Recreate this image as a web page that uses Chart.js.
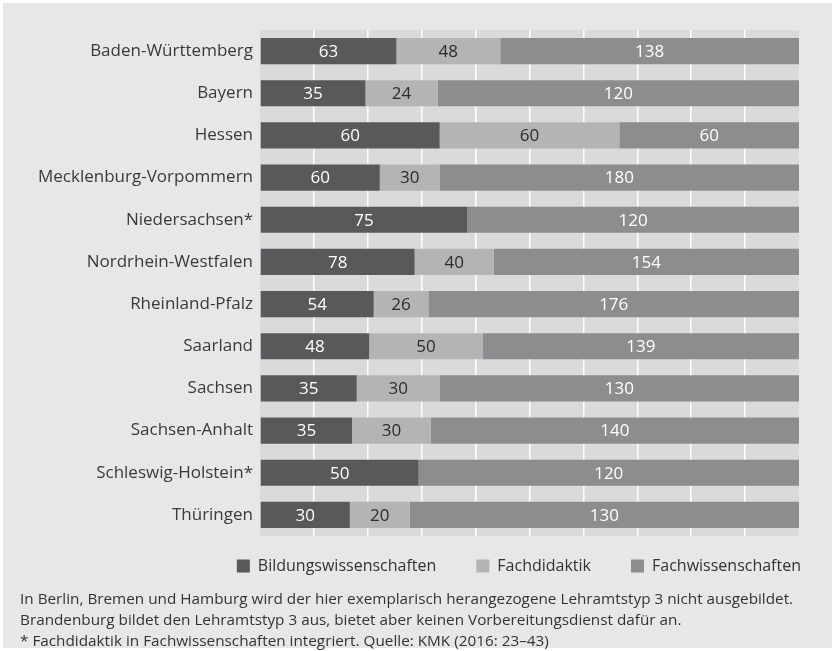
<!DOCTYPE html>
<html>
<head>
<meta charset="utf-8">
<script src="https://cdn.jsdelivr.net/npm/chart.js@4/dist/chart.umd.min.js"></script>
<style>
  html, body { margin: 0; padding: 0; background: #ffffff; }
  #box { position: absolute; left: 3px; top: 3px; width: 829px; height: 645px; background: #e6e7e8; }
  #wrap { position: absolute; left: 0; top: 0; width: 835px; height: 590px; }
  #note { position: absolute; left: 20px; top: 588px; font-family: "Open Sans", sans-serif; font-size: 15.3px; line-height: 21px; color: #333; white-space: nowrap; }
</style>
</head>
<body>
<div id="box"></div>
<div id="wrap"><canvas id="chart"></canvas></div>
<div id="note">
  In Berlin, Bremen und Hamburg wird der hier exemplarisch herangezogene Lehramtstyp 3 nicht ausgebildet.<br>
  Brandenburg bildet den Lehramtstyp 3 aus, bietet aber keinen Vorbereitungsdienst dafür an.<br>
  * Fachdidaktik in Fachwissenschaften integriert. Quelle: KMK (2016: 23–43)
</div>
<script>
// Daten (Leistungspunkte je Bundesland)
const laender = ["Baden-Württemberg", "Bayern", "Hessen", "Mecklenburg-Vorpommern", "Niedersachsen*",
  "Nordrhein-Westfalen", "Rheinland-Pfalz", "Saarland", "Sachsen", "Sachsen-Anhalt", "Schleswig-Holstein*", "Thüringen"];
const bildungswiss = [63, 35, 60, 60, 75, 78, 54, 48, 35, 35, 50, 30];
const fachdidaktik = [48, 24, 60, 30, null, 40, 26, 50, 30, 30, null, 20];
const fachwiss = [138, 120, 60, 180, 120, 154, 176, 139, 130, 140, 120, 130];

const rows = [bildungswiss, fachdidaktik, fachwiss];
const summen = laender.map((_, i) => rows.reduce((s, r) => s + (r[i] || 0), 0));
const anteil = arr => arr.map((v, i) => v == null ? null : v / summen[i] * 100);

const FONT = '"Open Sans", sans-serif';
const LEGEND_SHIFT = 18;
const LEGEND_RIGHT = 42;

// Hintergrund der Zeichenfläche
const plotBg = {
  id: 'plotBg',
  beforeDraw(chart) {
    const { ctx, chartArea: a } = chart;
    ctx.save();
    ctx.fillStyle = '#d9dadc';
    ctx.fillRect(a.left, a.top, a.right - a.left, a.bottom - a.top);
    ctx.restore();
  }
};

// Legende näher an die Balken rücken (nur top verschieben, damit nichts abgeschnitten wird)
const legendeEng = {
  id: 'legendeEng',
  beforeInit(chart) {
    const lg = chart.legend;
    const fit = lg.fit.bind(lg);
    lg.fit = function () { fit(); this.height -= LEGEND_SHIFT; };
  },
  afterLayout(chart) {
    const lg = chart.legend;
    lg.top -= LEGEND_SHIFT;
    lg.left += LEGEND_RIGHT;
    lg.right += LEGEND_RIGHT;
  }
};

// Werte in die Balken schreiben
const werte = {
  id: 'werte',
  afterDatasetsDraw(chart) {
    const ctx = chart.ctx;
    ctx.save();
    ctx.font = '17px ' + FONT;
    ctx.textAlign = 'center';
    ctx.textBaseline = 'middle';
    chart.data.datasets.forEach((ds, d) => {
      chart.getDatasetMeta(d).data.forEach((bar, i) => {
        const v = ds.raw[i];
        if (v == null) return;
        ctx.fillStyle = d === 1 ? '#2b2b2b' : '#ffffff';
        ctx.fillText(v, (bar.x + bar.base) / 2, bar.y + 1);
      });
    });
    ctx.restore();
  }
};

new Chart(document.getElementById('chart'), {
  type: 'bar',
  data: {
    labels: laender,
    datasets: [
      { label: 'Bildungswissenschaften', data: anteil(bildungswiss), raw: bildungswiss, backgroundColor: '#58595b' },
      { label: 'Fachdidaktik', data: anteil(fachdidaktik), raw: fachdidaktik, backgroundColor: '#b3b4b6' },
      { label: 'Fachwissenschaften', data: anteil(fachwiss), raw: fachwiss, backgroundColor: '#8c8d8f' }
    ]
  },
  options: {
    indexAxis: 'y',
    responsive: true,
    maintainAspectRatio: false,
    animation: false,
    layout: { padding: { top: 30, right: 36, left: 0, bottom: 6 } },
    datasets: { bar: { categoryPercentage: 1, barPercentage: 0.62 } },
    scales: {
      x: {
        stacked: true, min: 0, max: 100,
        ticks: { display: false, stepSize: 10 },
        border: { display: false },
        grid: { drawTicks: false, lineWidth: 1.5, color: c => (c.tick && (c.tick.value === 0 || c.tick.value === 100)) ? 'rgba(0,0,0,0)' : '#ffffff' }
      },
      y: {
        stacked: true,
        grid: { display: false, drawTicks: false, tickLength: 0 },
        border: { display: false },
        ticks: { color: '#3a3a3a', font: { family: FONT, size: 17 }, padding: 7 },
        afterFit(scale) { scale.width = 260; }
      }
    },
    plugins: {
      legend: {
        position: 'bottom',
        align: 'end',
        labels: { boxWidth: 13, boxHeight: 13, padding: 40, color: '#333333', font: { family: FONT, size: 16 } }
      },
      tooltip: { enabled: false }
    }
  },
  plugins: [plotBg, legendeEng, werte]
});
</script>
</body>
</html>
